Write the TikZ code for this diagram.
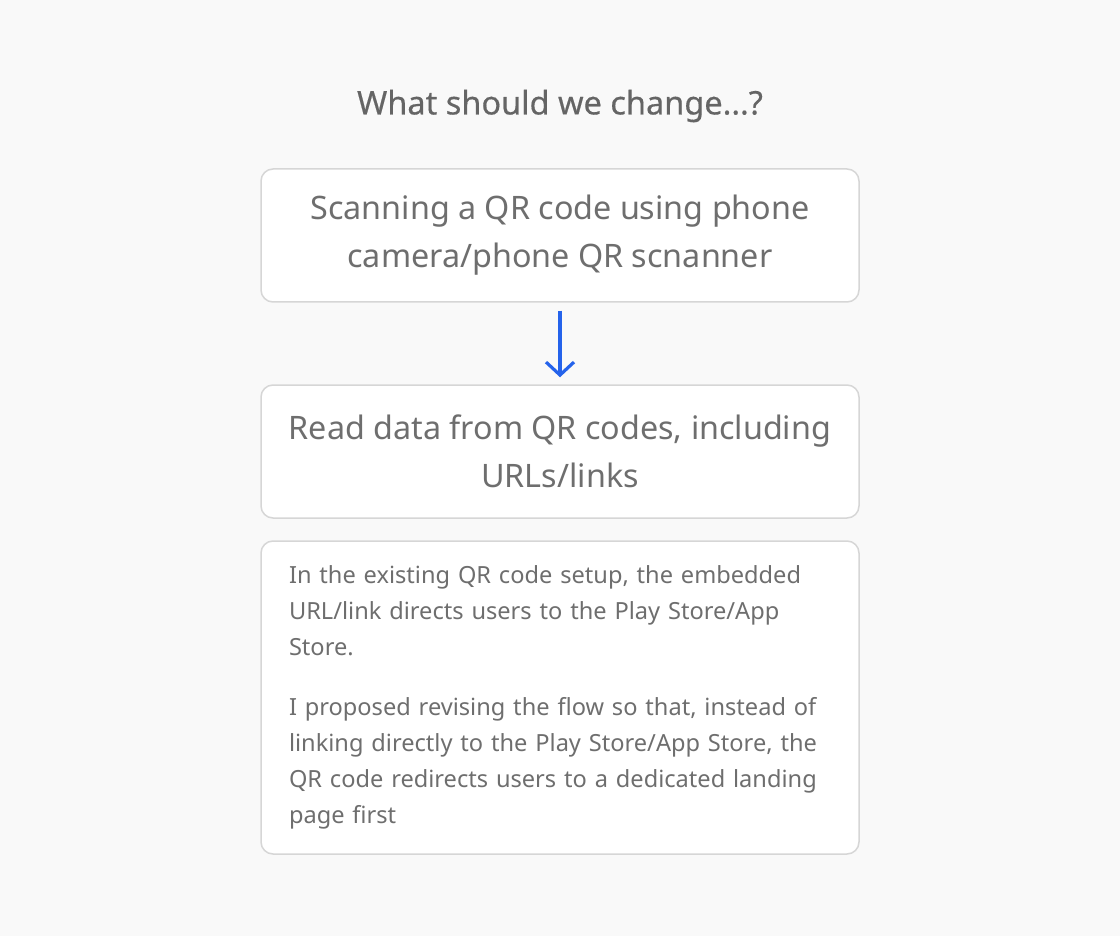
\documentclass[tikz,border=0pt]{standalone}
\usepackage{fontspec}
\setmainfont{Noto Sans}
\newfontfamily\headfont[FakeBold=0.4]{Noto Sans}
\usetikzlibrary{arrows.meta}
\definecolor{bgcol}{HTML}{F9F9F9}
\definecolor{linecol}{HTML}{D6D6D6}
\definecolor{textcol}{HTML}{6E6E6E}
\definecolor{arrowblue}{HTML}{2563EB}
\begin{document}
\begin{tikzpicture}[
        x=1pt, y=-1pt,
        stepbox/.style={
            rectangle,
            draw=linecol,
            fill=white,
            line width=1.5pt,
            rounded corners=12pt,
            minimum width=598pt,
            inner sep=0pt,
            align=center,
            text=textcol
        },
        title/.style={
            font=\headfont\fontsize{32.5}{38}\selectfont,
            text=textcol!92!black
        },
        arrow/.style={
            -{Straight Barb[length=13pt,width=28pt,line width=3.2pt]},
            line width=3.6pt,
            draw=arrowblue
        }
    ]

    % --- Background ---
    \fill[bgcol] (0,0) rectangle (1120,936);

    % --- Title ---
    \node[title] (head) at (560,106) {What should we change...?};

    % --- Steps ---
    \node[stepbox, minimum height=133pt, font=\fontsize{32.3}{48}\selectfont] (scan) at (560,235.5) {
        Scanning a QR code using phone\\
        camera/phone QR scnanner
    };

    \node[stepbox, minimum height=133pt, font=\fontsize{32.3}{48}\selectfont] (read) at (560,451.5) {
        Read data from QR codes, including\\
        URLs/links
    };

    \node[stepbox, minimum height=313pt, text width=542pt, align=left, inner xsep=28pt, font=\fontsize{23.6}{36}\selectfont] (note) at (560,697.5) {
        In the existing QR code setup, the embedded\\
        URL/link directs users to the Play Store/App\\
        Store.\\[24pt]
        I proposed revising the flow so that, instead of\\
        linking directly to the Play Store/App Store, the\\
        QR code redirects users to a dedicated landing\\
        page first
    };

    % Flow
    \draw[arrow, shorten <=8pt, shorten >=7pt] (scan) -- (read);

\end{tikzpicture}
\end{document}
